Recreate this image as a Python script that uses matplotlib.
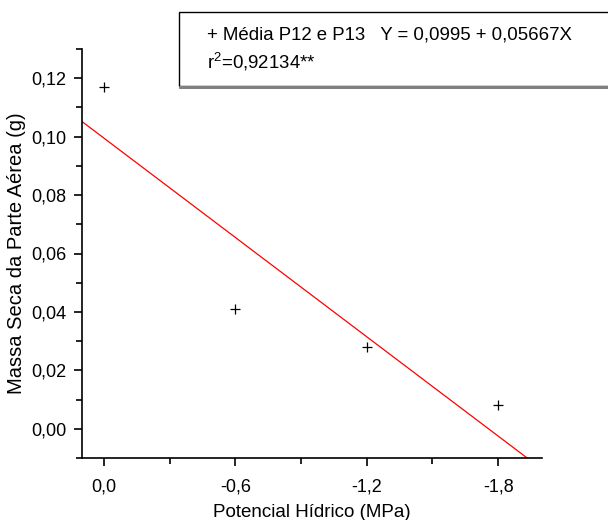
import numpy as np
import matplotlib
matplotlib.use("Agg")
import matplotlib.pyplot as plt
from matplotlib.patches import Rectangle
from matplotlib.ticker import MultipleLocator, FuncFormatter

plt.rcParams["font.family"] = ["Liberation Sans", "DejaVu Sans"]
plt.rcParams["mathtext.fontset"] = "custom"
plt.rcParams["mathtext.rm"] = "Liberation Sans"

# data
potencial = [0.0, -0.6, -1.2, -1.8]
massa_seca = [0.117, 0.041, 0.028, 0.008]
intercept = 0.0995
slope = 0.05667
x_ticks = [0.0, -0.6, -1.2, -1.8]
y_ticks = [0.00, 0.02, 0.04, 0.06, 0.08, 0.10, 0.12]

fig = plt.figure(figsize=(6.08, 5.2), dpi=100)
W, H = 608, 520
ax = fig.add_axes([82 / W, 1 - 458 / H, (542 - 82) / W, (458 - 49) / H])

ax.plot(potencial, massa_seca, linestyle="none", marker="+", color="black",
        markersize=7, markeredgewidth=0.9)
xf = np.array([0.1, -2.0])
ax.plot(xf, intercept + slope * xf, color="red", linewidth=0.9)

ax.set_xlim(0.1, -2.0)
ax.set_ylim(-0.01, 0.13)
ax.set_xticks(x_ticks)
ax.set_yticks(y_ticks)
ax.xaxis.set_minor_locator(MultipleLocator(0.3))
ax.yaxis.set_minor_locator(MultipleLocator(0.01))
comma = lambda fmt: FuncFormatter(lambda v, p: (fmt % v).replace(".", ","))
ax.xaxis.set_major_formatter(comma("%.1f"))
ax.yaxis.set_major_formatter(comma("%.2f"))

for s in ["top", "right"]:
    ax.spines[s].set_visible(False)
for s in ["left", "bottom"]:
    ax.spines[s].set_linewidth(1.2)
ax.tick_params(which="major", direction="out", length=6, width=1.2,
               labelsize=13, pad=5)
ax.tick_params(axis="x", which="major", pad=9)
ax.tick_params(which="minor", direction="out", length=4, width=1.2)

ax.set_xlabel("Potencial Hídrico (MPa)", fontsize=13.5, labelpad=6)
ax.set_ylabel("Massa Seca da Parte Aérea (g)", fontsize=14.5, labelpad=4)

# legend box (runs past the right edge)
fig.patches.append(Rectangle((179 / W, 1 - 86 / H), 0.8, 74 / H,
                             transform=fig.transFigure, facecolor="white",
                             edgecolor="black", linewidth=1.0))
fig.patches.append(Rectangle((179 / W, 1 - 87 / H), 0.8, 0.0,
                             transform=fig.transFigure, facecolor="none",
                             edgecolor="#808080", linewidth=2.0))
fig.text(207 / W, 1 - 35 / H, "+ Média P12 e P13   Y = 0,0995 + 0,05667X",
         fontsize=13.4, va="center", ha="left")
fig.text(207 / W, 1 - 62 / H, r"r$^{2}$=0,92134**", fontsize=13.4,
         va="center", ha="left")

fig.savefig("out.png", dpi=100)
